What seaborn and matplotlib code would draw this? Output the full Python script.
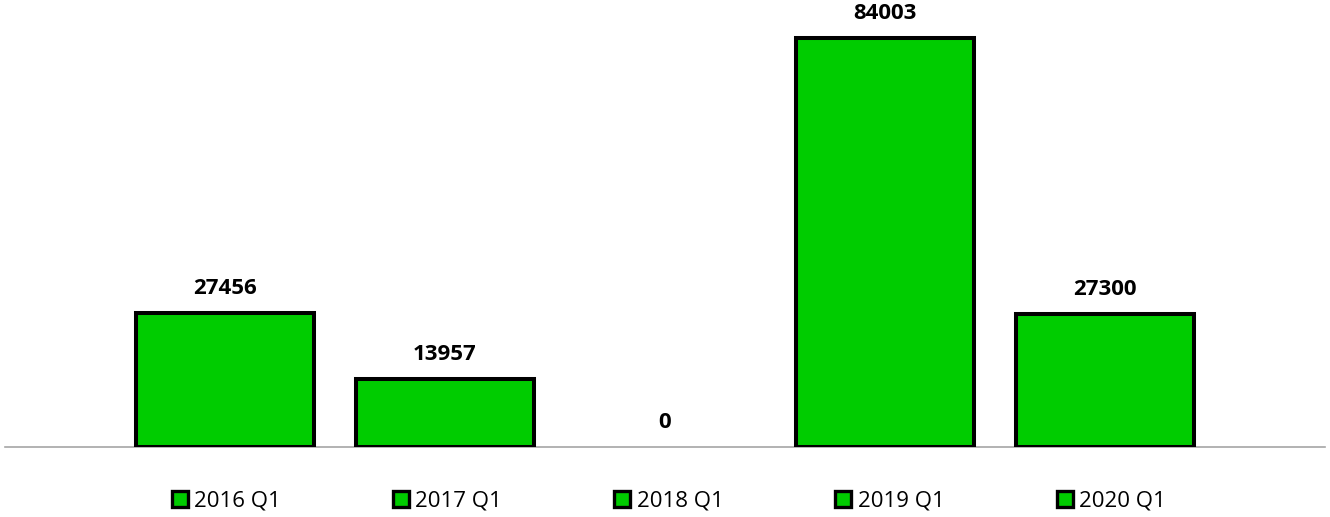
import matplotlib
matplotlib.use("Agg")
import matplotlib.pyplot as plt
from matplotlib.lines import Line2D
import seaborn as sns
import pandas as pd

categories = ["2016 Q1", "2017 Q1", "2018 Q1", "2019 Q1", "2020 Q1"]
values = [27456, 13957, 0, 84003, 27300]

bar_color = "#00CC00"

sns.set_theme(style="white")
plt.rcParams["font.family"] = ["Open Sans", "DejaVu Sans"]
plt.rcParams["text.color"] = "black"

df = pd.DataFrame({"period": categories, "value": values})

fig = plt.figure(figsize=(13.3, 5.17), dpi=100)
ax = fig.add_axes([5 / 1330, 70 / 517, 1320 / 1330, 447 / 517])

sns.barplot(data=df, x="period", y="value", hue="period",
            palette=[bar_color] * len(categories), dodge=False, saturation=1,
            width=0.81, edgecolor="black", linewidth=2.9,
            legend=False, ax=ax)

for p in ax.patches:
    if p.get_height() == 0:
        p.set_linewidth(0)

ax.set_xlim(-1, 5)
ax.set_ylim(0, 84003 * 447 / 409)

for i, v in enumerate(values):
    ax.annotate(f"{v}", xy=(i, v), xytext=(0, 18), textcoords="offset points",
                ha="center", va="center", fontsize=16, fontweight="bold",
                color="black", annotation_clip=False)

for s in ["top", "right", "left"]:
    ax.spines[s].set_visible(False)
ax.spines["bottom"].set_color("#A6A6A6")
ax.spines["bottom"].set_linewidth(1.2)
ax.spines["bottom"].set_zorder(0)
ax.set_xticks([])
ax.set_yticks([])
ax.set_xlabel("")
ax.set_ylabel("")

handles = [Line2D([0], [0], marker="s", linestyle="none", markersize=12,
                  markerfacecolor=bar_color, markeredgecolor="black",
                  markeredgewidth=2.4) for _ in categories]
leg = fig.legend(handles, categories, loc="center", bbox_to_anchor=(0.5025, 16 / 517),
                 ncol=5, frameon=False, fontsize=16, handlelength=0.8,
                 handletextpad=0.25, columnspacing=5.0, borderaxespad=0)
for t in leg.get_texts():
    t.set_color("black")

fig.savefig("out.png", dpi=100)
